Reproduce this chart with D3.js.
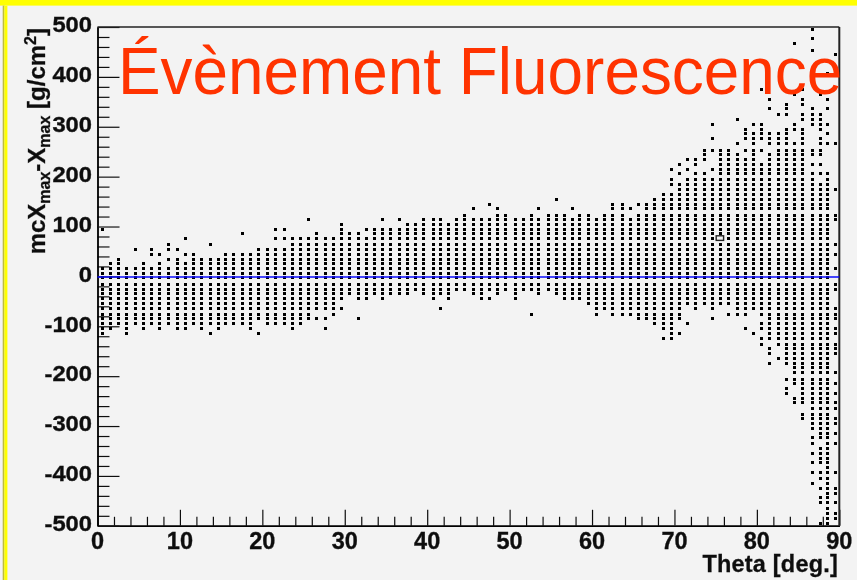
<!DOCTYPE html>
<html><head><meta charset="utf-8">
<script src="https://cdn.jsdelivr.net/npm/d3@7"></script>
<style>html,body{margin:0;padding:0;background:#f3f3f3;overflow:hidden}svg{display:block}</style>
</head><body><svg id="c" width="857" height="580"></svg>
<script>
// Data
const titleText = "Évènement Fluorescence";
const xTicksMajor = [0,10,20,30,40,50,60,70,80,90];
const yTicksMajor = [500,400,300,200,100,0,-100,-200,-300,-400,-500];
const thetaBins = [0.63,1.60,2.57,3.54,4.67,5.64,6.61,7.58,8.67,9.65,10.62,11.59,12.56,13.65,14.62,15.59,16.56,17.65,18.62,19.59,20.57,21.54,22.63,23.60,24.57,25.54,26.51,27.69,28.61,29.58,30.55,31.69,32.66,33.58,34.55,35.53,36.67,37.64,38.61,39.58,40.71,41.64,42.61,43.58,44.50,45.65,46.62,47.59,48.56,49.53,50.66,51.63,52.60,53.53,54.66,55.63,56.60,57.57,58.51,59.63,60.60,61.57,62.54,63.68,64.65,65.62,66.55,67.52,68.65,69.62,70.59,71.53,72.50,73.62,74.60,75.57,76.54,77.68,78.65,79.57,80.54,81.51,82.65,83.62,84.59,85.56,86.69,87.66,88.60,89.57];
// row values as read, top row (nominal 495) to bottom row (nominal -495)
const rowValues = [495.4,486,476,466,453.3,444,434.4,425,416,406.4,396.8,383.7,373.7,364.3,355,345.6,336.2,323.6,314.2,304,295,285.5,276,266,253.4,244,234.4,224.3,215.3,206,193.3,183.8,173.8,164.6,154.6,145,135.7,123,113.7,104.5,95,85.6,76.4,63,53.5,44.3,34.3,24.9,15.4,6.2,-3.2,-15.8,-25.3,-34.7,-43.9,-54,-64,-76,-85.4,-94.8,-104.9,-114,-123.5,-136,-145.5,-155,-165,-174,-183.6,-193,-205.7,-215,-225,-234.4,-243.8,-253.8,-265.2,-275.9,-285.3,-295.3,-304.5,-314,-323.4,-336,-345.4,-354.6,-364.7,-374,-383.5,-392.7,-405.6,-414.8,-424.8,-434.3,-443.7,-452.9,-465.7,-475,-485,-494.4];
const bandTop = [15,25,35,15,15,25,15,25,15,35,25,45,35,35,35,45,45,45,45,55,55,55,55,75,75,75,85,75,75,105,85,85,75,95,95,95,95,105,105,115,115,115,105,115,125,115,115,115,125,125,115,115,125,115,125,125,125,115,125,125,115,125,145,145,115,125,145,155,165,165,185,195,195,195,195,255,255,245,235,255,225,245,255,295,265,295,205,185,195,null];
const bandBottom = [-115,-105,-95,-115,-95,-105,-95,-105,-95,-105,-105,-95,-105,-95,-105,-95,-95,-95,-105,-85,-95,-95,-95,-105,-95,-85,-65,-65,-65,-45,-35,-45,-45,-35,-45,-35,-35,-35,-25,-35,-45,-35,-45,-25,-25,-35,-45,-25,-35,-25,-45,-25,-25,-35,-25,-35,-45,-45,-45,-55,-75,-65,-75,-75,-75,-85,-85,-95,-105,-125,-85,-55,-65,-55,-65,-55,-55,-75,-75,-65,-75,-125,-135,-175,-215,-255,-305,-325,-495,null];
// isolated points: [bin index, nominal rows...]
const outliers = [
 [0,95],[4,55],[6,55,45],[7,45],[8,65,55,35],[9,55],[10,75,45],[13,65,-115],[17,85],[19,-115],
 [21,95,75],[22,95,75],[25,115],[26,-85],[27,-85,-105],[28,-75],[29,-65],[31,-85],[32,95],[34,115],[36,115],
 [41,-65],[45,135],[47,145,-45],[48,135],[52,-75],[53,135],[55,155],[57,135],[64,135],[65,145],
 [68,-125],[69,215,195,185],[70,225,205,-115],[71,235,215,-95],[72,235,225,205],[73,255,245,235,205],
 [74,305,275,255,215,-85],[76,-75],[77,315,265],[78,295,285,275,255,-105],[79,305,285,275,265,-115],
 [80,375,305,295,285,275,255,-95,-105,-125,-135],[81,355,335,285,275,265,-145,-155,-175],
 [82,325,285,275,265,-165],[83,345,335,325,-205,-225,-235],[84,465,365,305,295,-245,-255],
 [85,375,355,345,325,315,-275,-285],
 [86,495,475,455,415,335,325,315,305,255,245,225,-325,-335,-355,-375,-395,-415],
 [87,365,325,315,305,295,275,265,255,245,225,205,-345,-355,-365,-375,-395,-405,-425,-445,-455,-495],
 [88,405,355,335,305,285,265,205],
 [89,445,405,265,175,125,115,65,45,15,-15,-25,-65,-75,-85,-105,-115,-135,-145,-155,-195,-215,-235,-255,-265,-285,-295,-315,-335,-395,-425,-435,-455,-475,-485]
];
const meanPoint = {theta:75.5, value:77};
const zeroLine = 0;

const svg = d3.select("#c");
const W=857,H=580;
const defs = svg.append("defs");
defs.append("filter").attr("id","soft").attr("x","-5%").attr("y","-5%").attr("width","110%").attr("height","110%")
  .append("feGaussianBlur").attr("stdDeviation",0.4);
defs.append("filter").attr("id","softDots").attr("x","-5%").attr("y","-5%").attr("width","110%").attr("height","110%")
  .append("feGaussianBlur").attr("stdDeviation",0.25);

// page frame
svg.append("rect").attr("width",W).attr("height",H).attr("fill","#f3f3f3");
svg.append("rect").attr("x",0).attr("y",0).attr("width",W).attr("height",5.6).attr("fill","#ffff00");
svg.append("rect").attr("x",2.7).attr("y",5.6).attr("width",1.7).attr("height",H).attr("fill","#bdbd3c");
svg.append("rect").attr("x",4.4).attr("y",5.6).attr("width",3).attr("height",H).attr("fill","#ffff00");

const x = d3.scaleLinear().domain([0,90]).range([97.5,839.3]);
const y = d3.scaleLinear().domain([-500,500]).range([525.8,27]);
const g = svg.append("g").attr("filter","url(#soft)");

// points: rows are looked up from their nominal bin
const rowOf = n => rowValues[(495-n)/10];
const pts = [];
thetaBins.forEach((t,i)=>{
  if(bandTop[i]===null) return;
  d3.range(bandBottom[i],bandTop[i]+1,10).forEach(n=>pts.push([t,rowOf(n)]));
});
outliers.forEach(o=>o.slice(1).forEach(n=>pts.push([thetaBins[o[0]],rowOf(n)])));
const dotSize=3;
svg.append("g").attr("filter","url(#softDots)").selectAll("rect").data(pts).join("rect")
  .attr("x",d=>Math.round(x(d[0])-dotSize/2))
  .attr("y",d=>Math.round(y(d[1])-dotSize/2))
  .attr("width",dotSize).attr("height",dotSize).attr("fill","#000");

// axes
const axisStyle = s=>{
  s.selectAll("path").attr("stroke","#000").attr("stroke-width",1.4);
  s.selectAll("line").attr("stroke","#111").attr("stroke-width",1.2);
};
const axX = g.append("g").attr("transform",`translate(0,${y(-500)})`);
axX.call(d3.axisTop(x).tickValues(d3.range(0,91,2).filter(v=>v%10)).tickSize(9).tickSizeOuter(0).tickFormat(""));
axX.append("g").call(d3.axisTop(x).tickValues(xTicksMajor).tickSize(16).tickSizeOuter(0).tickFormat(""));
axX.call(axisStyle);
const axY = g.append("g").attr("transform",`translate(${x(0)},0)`);
axY.call(d3.axisRight(y).tickValues(d3.range(-500,501,20).filter(v=>v%100)).tickSize(12).tickSizeOuter(0).tickFormat(""));
axY.append("g").call(d3.axisRight(y).tickValues(yTicksMajor).tickSize(22).tickSizeOuter(0).tickFormat(""));
axY.call(axisStyle);
// frame top / right
g.append("line").attr("x1",x(0)).attr("x2",x(90)).attr("y1",y(500)).attr("y2",y(500)).attr("stroke","#222").attr("stroke-width",1.4);
g.append("line").attr("x1",x(90)).attr("x2",x(90)).attr("y1",y(500)).attr("y2",y(-500)).attr("stroke","#222").attr("stroke-width",2);

// tick labels
const font="'Liberation Sans',Arial,sans-serif";
g.append("g").selectAll("text").data(yTicksMajor).join("text")
  .attr("text-anchor","end").attr("font-family",font).attr("font-weight","bold").attr("font-size",22)
  .attr("fill","#111").attr("stroke","#111").attr("stroke-width",0.35)
  .attr("transform",d=>`translate(92,${y(d)+5.3}) scale(1.08,1)`).text(d=>d);
g.append("g").selectAll("text").data(xTicksMajor).join("text")
  .attr("text-anchor","middle").attr("font-family",font).attr("font-weight","bold").attr("font-size",23.5)
  .attr("fill","#111").attr("stroke","#111").attr("stroke-width",0.35)
  .attr("x",d=>x(d)).attr("y",548.5).text(d=>d);
g.append("text").attr("text-anchor","end").attr("x",838).attr("y",572)
  .attr("font-family",font).attr("font-weight","bold").attr("font-size",23.5).attr("letter-spacing",0.2)
  .attr("fill","#111").attr("stroke","#111").attr("stroke-width",0.3).text("Theta [deg.]");

// y title
const yt = g.append("text").attr("transform","translate(45,28) rotate(-90)").attr("text-anchor","end")
  .attr("font-family",font).attr("font-weight","bold").attr("font-size",24).attr("fill","#111")
  .attr("stroke","#111").attr("stroke-width",0.3);
yt.append("tspan").text("mcX");
yt.append("tspan").attr("font-size",16).attr("dy",5).text("max");
yt.append("tspan").attr("dy",-5).text("-X");
yt.append("tspan").attr("font-size",16).attr("dy",5).text("max");
yt.append("tspan").attr("dy",-5).text(" [g/cm");
yt.append("tspan").attr("font-size",16).attr("dy",-9).text("2");
yt.append("tspan").attr("dy",9).text("]");

// mean marker and zero line
svg.append("rect").attr("x",x(meanPoint.theta)-3.6).attr("y",y(meanPoint.value)-2.2)
  .attr("width",7.4).attr("height",4.6).attr("fill","#f3f3f3").attr("stroke","#222").attr("stroke-width",1.4);
svg.append("line").attr("x1",x(0)).attr("x2",x(90)).attr("y1",y(zeroLine)+0.6).attr("y2",y(zeroLine)+0.6)
  .attr("stroke","#0a0aff").attr("stroke-width",1.6);

// title
svg.append("text").attr("transform","translate(118,94.3) scale(0.968,1)").attr("font-family",font).attr("font-size",66)
  .attr("fill","#ff3300").text(titleText);
</script></body></html>
